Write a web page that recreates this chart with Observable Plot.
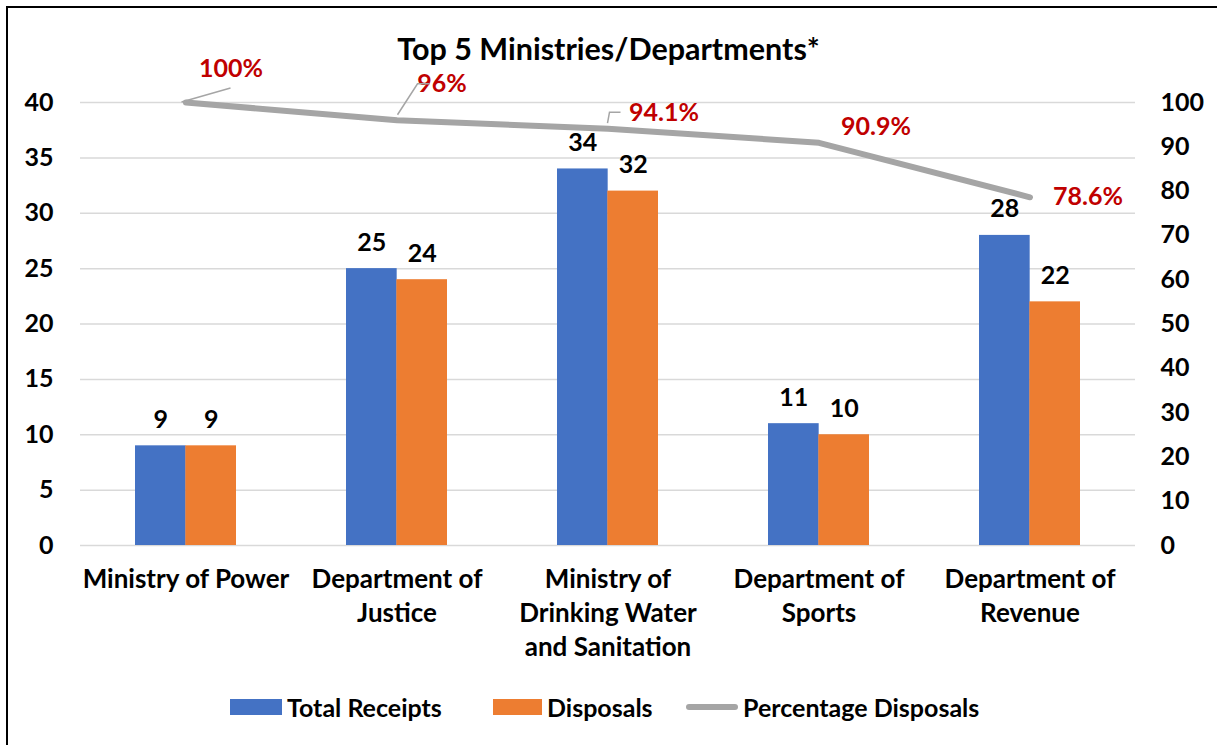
<!DOCTYPE html>
<html>
<head>
<meta charset="utf-8">
<script src="https://cdn.jsdelivr.net/npm/d3@7"></script>
<script src="https://cdn.jsdelivr.net/npm/@observablehq/plot@0.6"></script>
<style>
  html, body { margin: 0; padding: 0; background: #fff; }
  #wrap { position: relative; width: 1217px; height: 745px; overflow: hidden; font-family: Lato, "Liberation Sans", sans-serif; font-weight: bold; }
  #frame { position: absolute; left: 6px; top: 6px; right: -10px; bottom: -10px; border-left: 2px solid #000; border-top: 2px solid #000; pointer-events: none; }
  #title { position: absolute; left: 0; width: 1217px; top: 29px; text-align: center; font-size: 30.5px; line-height: 38px; color: #000; }
  #legend { position: absolute; top: 692px; left: 0; width: 1217px; height: 30px; }
  .li { position: absolute; top: 0; height: 30px; display: flex; align-items: center; font-size: 25px; color: #000; }
  .sw { display: inline-block; margin-right: 5px; }
  svg { position: absolute; left: 0; top: 0; }
</style>
</head>
<body>
<div id="wrap"></div>
<script>
// ---- data ----
const categories = ["Ministry of Power", "Department of Justice", "Ministry of Drinking Water and Sanitation", "Department of Sports", "Department of Revenue"];
const tickLabels = ["Ministry of Power", "Department of\nJustice", "Ministry of\nDrinking Water\nand Sanitation", "Department of\nSports", "Department of\nRevenue"];
const totalReceipts = [9, 25, 34, 11, 28];
const disposals = [9, 24, 32, 10, 22];
const percentDisposals = [100, 96, 94.1, 90.9, 78.6];
const percentLabels = ["100%", "96%", "94.1%", "90.9%", "78.6%"];
const leftTicks = [0, 5, 10, 15, 20, 25, 30, 35, 40];
const rightTicks = [0, 10, 20, 30, 40, 50, 60, 70, 80, 90, 100];
const seriesNames = ["Total Receipts", "Disposals", "Percentage Disposals"];
const titleText = "Top 5 Ministries/Departments*";

// ---- layout / style (not data) ----
const colors = {receipts: "#4472C4", disposals: "#ED7D31", pct: "#A5A5A5", pctLabel: "#C00000", grid: "#D9D9D9"};
const ratio = 40 / 100; // right axis (0-100) onto left axis (0-40)
const W = 1217, H = 745, mL = 80, mR = 82, mT = 102, mB = 200;
const padInner = 0.523;
const step = (W - mL - mR) / categories.length;
const bw = step * (1 - padInner);
const labelOffsets = [[45, -34], [45, -36], [56, -16], [57, -16], [58, 0]];
const leaders = [
  [[-4, 0], [45, -14]],
  [[1, -5], [21, -36], [33, -36]],
  [[0, -5], [2, -16], [13, -16]],
  null,
  null
];

const rows = categories.map((c, i) => ({
  category: c,
  receipts: totalReceipts[i],
  disposals: disposals[i],
  pct: percentDisposals[i],
  pctLabel: percentLabels[i],
  tick: tickLabels[i]
}));

const pctMarks = rows.map((r, i) => Plot.text([r], {
  x: "category", y: d => d.pct * ratio, text: "pctLabel",
  fill: colors.pctLabel, fontSize: 25, fontWeight: "bold",
  dx: labelOffsets[i][0], dy: labelOffsets[i][1]
}));

const plot = Plot.plot({
  width: W, height: H,
  marginLeft: mL, marginRight: mR, marginTop: mT, marginBottom: mB,
  style: {fontFamily: "Lato, 'Liberation Sans', sans-serif", fontWeight: "bold", fontSize: "25px", color: "#000", background: "transparent", overflow: "visible"},
  x: {domain: categories, paddingInner: padInner, paddingOuter: padInner / 2, axis: null},
  y: {domain: [0, 40], axis: null},
  marks: [
    Plot.gridY(leftTicks, {stroke: colors.grid, strokeOpacity: 1, strokeWidth: 1.5}),
    Plot.barY(rows, {x: "category", y: "receipts", fill: colors.receipts, insetRight: bw / 2}),
    Plot.barY(rows, {x: "category", y: "disposals", fill: colors.disposals, insetLeft: bw / 2}),
    Plot.text(rows, {x: "category", y: "receipts", text: d => String(d.receipts), dx: -bw / 4, dy: -26, fill: "#000", fontSize: 25, fontWeight: "bold"}),
    Plot.text(rows, {x: "category", y: "disposals", text: d => String(d.disposals), dx: bw / 4, dy: -26, fill: "#000", fontSize: 25, fontWeight: "bold"}),
    Plot.line(rows, {x: "category", y: d => d.pct * ratio, stroke: colors.pct, strokeWidth: 6, strokeLinecap: "round", strokeLinejoin: "round"}),
    ...pctMarks,
    Plot.axisY(leftTicks, {anchor: "left", tickSize: 0, tickPadding: 27, label: null, fontSize: 25, fontWeight: "bold", fill: "#000"}),
    Plot.axisY(rightTicks.map(v => v * ratio), {anchor: "right", tickSize: 0, tickPadding: 25, label: null, tickFormat: d => String(Math.round(d / ratio)), fontSize: 25, fontWeight: "bold", fill: "#000"}),
    Plot.axisX(categories, {anchor: "bottom", tickSize: 0, tickPadding: 18, label: null, tickFormat: d => tickLabels[categories.indexOf(d)], lineHeight: 1.31, fontSize: 26, fontWeight: "bold", fill: "#000"})
  ]
});

const wrap = document.getElementById("wrap");
wrap.appendChild(plot);

// leader lines for percentage labels, positioned from Plot's own scales
const xs = plot.scale("x"), ys = plot.scale("y");
const svg = d3.select(plot);
rows.forEach((r, i) => {
  if (!leaders[i]) return;
  const px = xs.apply(r.category) + xs.bandwidth / 2;
  const py = ys.apply(r.pct * ratio);
  const path = d3.path();
  leaders[i].forEach(([dx, dy], k) => k === 0 ? path.moveTo(px + dx, py + dy) : path.lineTo(px + dx, py + dy));
  svg.append("path").attr("d", path.toString()).attr("fill", "none").attr("stroke", colors.pct).attr("stroke-width", 1.5);
});

// title
const title = document.createElement("div");
title.id = "title";
title.textContent = titleText;
wrap.appendChild(title);

// legend
const legend = document.createElement("div");
legend.id = "legend";
const items = [
  {name: seriesNames[0], left: 230, sw: `<span class="sw" style="width:52px;height:16px;background:${colors.receipts}"></span>`},
  {name: seriesNames[1], left: 493, sw: `<span class="sw" style="width:49px;height:16px;background:${colors.disposals}"></span>`},
  {name: seriesNames[2], left: 686, sw: `<span class="sw" style="width:52px;height:6px;border-radius:3px;background:${colors.pct}"></span>`}
];
items.forEach(it => {
  const d = document.createElement("div");
  d.className = "li";
  d.style.left = it.left + "px";
  d.innerHTML = it.sw + `<span>${it.name}</span>`;
  legend.appendChild(d);
});
wrap.appendChild(legend);

const frame = document.createElement("div");
frame.id = "frame";
wrap.appendChild(frame);
</script>
</body>
</html>
